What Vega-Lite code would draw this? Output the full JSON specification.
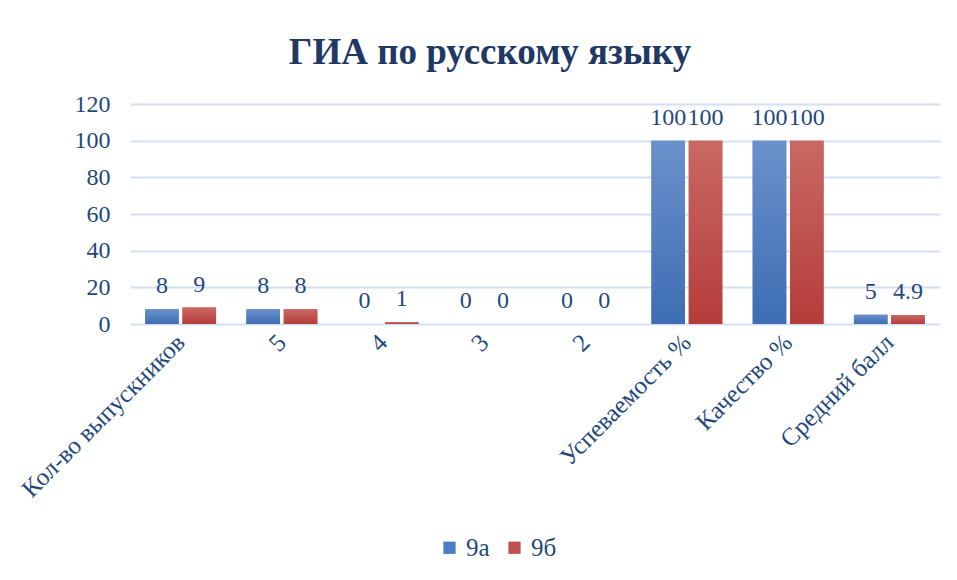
{
  "$schema": "https://vega.github.io/schema/vega-lite/v6.json",
  "autosize": "none",
  "width": 810,
  "height": 220,
  "padding": {"left": 130, "top": 104, "right": 17, "bottom": 256},
  "background": "white",
  "title": {
    "text": "ГИА по русскому языку",
    "font": "Liberation Serif",
    "fontSize": 37,
    "fontWeight": "bold",
    "color": "#1F3864",
    "anchor": "middle",
    "dx": -45,
    "offset": 20
  },
  "config": {
    "view": {"stroke": null},
    "font": "Liberation Serif"
  },
  "data": {
    "values": [
      {"category": "Кол-во выпускников", "class": "9а", "value": 8},
      {"category": "Кол-во выпускников", "class": "9б", "value": 9},
      {"category": "5", "class": "9а", "value": 8},
      {"category": "5", "class": "9б", "value": 8},
      {"category": "4", "class": "9а", "value": 0},
      {"category": "4", "class": "9б", "value": 1},
      {"category": "3", "class": "9а", "value": 0},
      {"category": "3", "class": "9б", "value": 0},
      {"category": "2", "class": "9а", "value": 0},
      {"category": "2", "class": "9б", "value": 0},
      {"category": "Успеваемость %", "class": "9а", "value": 100},
      {"category": "Успеваемость %", "class": "9б", "value": 100},
      {"category": "Качество %", "class": "9а", "value": 100},
      {"category": "Качество %", "class": "9б", "value": 100},
      {"category": "Средний балл", "class": "9а", "value": 5},
      {"category": "Средний балл", "class": "9б", "value": 4.9}
    ]
  },
  "encoding": {
    "x": {
      "field": "category",
      "type": "nominal",
      "sort": null,
      "scale": {"paddingInner": 0.3, "paddingOuter": 0.15},
      "axis": {
        "title": null,
        "labelAngle": -45,
        "labelAlign": "right",
        "labelBaseline": "middle",
        "labelFont": "Liberation Serif",
        "labelFontSize": 25,
        "labelColor": "#1F497D",
        "labelPadding": 14,
        "labelLimit": 400,
        "domain": false,
        "ticks": false
      }
    },
    "xOffset": {"field": "class", "type": "nominal", "sort": ["9а", "9б"], "scale": {"paddingInner": 0.1}},
    "y": {
      "field": "value",
      "type": "quantitative",
      "scale": {"domain": [0, 120], "nice": false},
      "axis": {
        "title": null,
        "values": [0, 20, 40, 60, 80, 100, 120],
        "labelFont": "Liberation Serif",
        "labelFontSize": 24,
        "labelColor": "#1F497D",
        "labelPadding": 20,
        "domain": false,
        "ticks": false,
        "gridColor": "#D4DFF1",
        "gridWidth": 2
      }
    }
  },
  "layer": [
    {
      "mark": {"type": "bar"},
      "encoding": {
        "color": {
          "field": "class",
          "type": "nominal",
          "scale": {"domain": ["9а", "9б"], "range": ["#4A7EC2", "#C0504D"]},
          "legend": {
            "title": null,
            "orient": "none",
            "legendX": 307,
            "legendY": 431,
            "direction": "horizontal",
            "symbolType": "square",
            "symbolSize": 150,
            "symbolStrokeWidth": 0,
            "labelFont": "Liberation Serif",
            "labelFontSize": 25,
            "labelColor": "#1F497D",
            "labelOffset": 4,
            "columnPadding": 12
          }
        }
      }
    },
    {
      "transform": [{"filter": "datum['class'] === '9а'"}],
      "mark": {"type": "bar", "color": {"gradient": "linear", "x1": 0, "y1": 0, "x2": 0, "y2": 1,
        "stops": [{"offset": 0, "color": "#6A91CB"}, {"offset": 1, "color": "#3E6DB3"}]}}
    },
    {
      "transform": [{"filter": "datum['class'] === '9б'"}],
      "mark": {"type": "bar", "color": {"gradient": "linear", "x1": 0, "y1": 0, "x2": 0, "y2": 1,
        "stops": [{"offset": 0, "color": "#C96863"}, {"offset": 1, "color": "#B53D3A"}]}}
    },
    {
      "mark": {"type": "text", "baseline": "alphabetic", "dy": -16, "font": "Liberation Serif", "fontSize": 24, "color": "#1F497D"},
      "encoding": {"text": {"field": "value", "type": "quantitative"}}
    }
  ]
}
